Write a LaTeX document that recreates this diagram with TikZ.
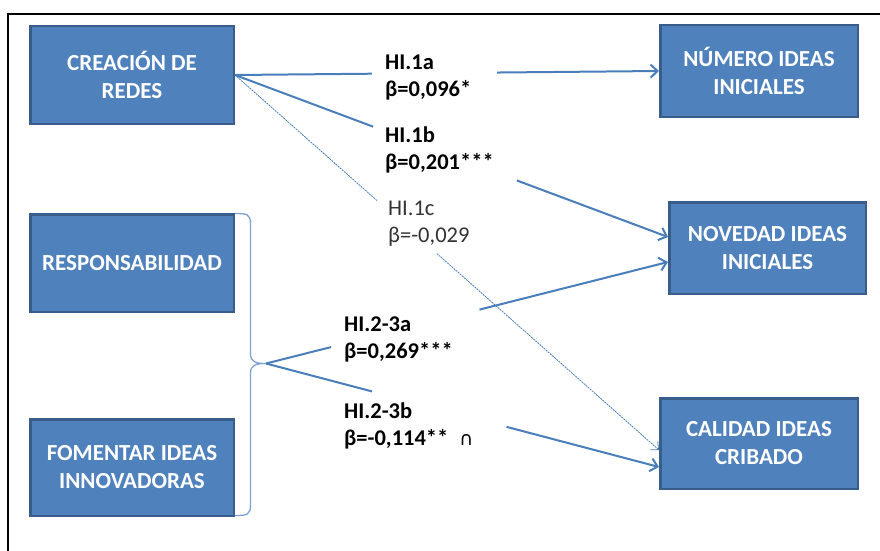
\documentclass[tikz,border=0pt]{standalone}
\usepackage{fontspec}
\setmainfont{Carlito}
\newfontfamily\symfont{DejaVu Sans}
\usetikzlibrary{arrows.meta,calc}
\definecolor{boxfill}{HTML}{4F81BD}
\definecolor{boxedge}{HTML}{385D8A}
\definecolor{linkblue}{HTML}{4A7EBB}
\definecolor{bracecol}{HTML}{7DA2D2}
\definecolor{labelgray}{HTML}{333333}
\begin{document}
\begin{tikzpicture}[x=1pt,y=-1pt,
  varbox/.style={draw=boxedge, line width=2.5pt, fill=boxfill, text=white,
    font=\bfseries\fontsize{23}{28}\selectfont, align=center, inner sep=0pt},
  hyplabel/.style={anchor=base west, align=left, inner sep=0pt,
    font=\bfseries\fontsize{22.5}{26.8}\selectfont},
  link/.style={draw=linkblue, line width=2pt},
  arrowlink/.style={link, -{Straight Barb[length=7pt,width=13pt,line width=2pt]}},
  thinlink/.style={draw=linkblue, line width=0.8pt, dash pattern=on 2pt off 0.8pt,
    -{Straight Barb[length=6pt,width=11pt,line width=0.8pt]}},
]
\useasboundingbox (0,0) rectangle (880,551);

% outer frame
\draw[black, line width=1.8pt] (880,14) -- (8,14) -- (8,551);

% variables
\node[varbox, minimum width=203.5pt, minimum height=97.5pt] (cr) at (132,75) {CREACIÓN DE\\REDES};
\node[varbox, minimum width=203.5pt, minimum height=97.5pt] (rs) at (132,263) {RESPONSABILIDAD};
\node[varbox, minimum width=203.5pt, minimum height=96.5pt] (fo) at (132,467.5) {FOMENTAR IDEAS\\INNOVADORAS};
\node[varbox, minimum width=197.5pt, minimum height=91.5pt] (nm) at (759,71) {NÚMERO IDEAS\\INICIALES};
\node[varbox, minimum width=196.5pt, minimum height=91.5pt] (nv) at (767.5,248) {NOVEDAD IDEAS\\INICIALES};
\node[varbox, minimum width=197.5pt, minimum height=90.5pt] (ca) at (759,443.5) {CALIDAD IDEAS\\CRIBADO};

% brace grouping the two organisational variables
\coordinate (bt) at (266,363.5);
\draw[bracecol, line width=1.3pt] (235,213.5) .. controls (247,213.5) and (250.5,214) .. (250.5,224)
  -- (250.5,354) .. controls (250.5,362) and (256,363.5) .. (bt)
  .. controls (256,363.5) and (250.5,365) .. (250.5,373)
  -- (250.5,505) .. controls (250.5,515) and (247,515.5) .. (235,515.5);

% arrow end points on the outcome boxes
\coordinate (nv-top) at ([yshift=11pt]nv.west);
\coordinate (nv-low) at ([yshift=-14pt]nv.west);
\coordinate (ca-top) at ([yshift=-6.5pt]ca.west);
\coordinate (ca-low) at ([yshift=-23.5pt]ca.west);

% H1a
\coordinate (h1a-in) at ($(cr.east)!0.323!(nm.west)$);
\coordinate (h1a-out) at ($(cr.east)!0.618!(nm.west)$);
\draw[link] (cr.east) -- (h1a-in);
\draw[arrowlink] (h1a-out) -- (nm.west);

% H1b
\coordinate (h1b-in) at ($(cr.east)!0.319!(nv-top)$);
\coordinate (h1b-out) at ($(cr.east)!0.651!(nv-top)$);
\draw[link] (cr.east) -- (h1b-in);
\draw[arrowlink] (h1b-out) -- (nv-top);

% H1c (not significant)
\coordinate (h1c-in) at ($(cr.east)!0.335!(ca-top)$);
\coordinate (h1c-out) at ($(cr.east)!0.476!(ca-top)$);
\draw[thinlink, -] (cr.east) -- (h1c-in);
\draw[thinlink] (h1c-out) -- (ca-top);

% H2-3a
\coordinate (h23a-in) at ($(bt)!0.162!(nv-low)$);
\coordinate (h23a-out) at ($(bt)!0.531!(nv-low)$);
\draw[link] (bt) -- (h23a-in);
\draw[arrowlink] (h23a-out) -- (nv-low);

% H2-3b
\coordinate (h23b-in) at ($(bt)!0.270!(ca-low)$);
\coordinate (h23b-out) at ($(bt)!0.612!(ca-low)$);
\draw[link] (bt) -- (h23b-in);
\draw[arrowlink] (h23b-out) -- (ca-low);

% path coefficients (anchored on the baseline of the second line)
\node[hyplabel] (l1a) at (385,96) {HI.1a\\β=0,096*};
\node[hyplabel] (l1b) at (385,169.3) {HI.1b\\β=0,201***};
\node[hyplabel, font=\fontsize{22.5}{27}\selectfont, text=labelgray] (l1c) at (388,242.7) {HI.1c\\β=-0,029};
\node[hyplabel] (l23a) at (344,358.3) {HI.2-3a\\β=0,269***};
\node[hyplabel] (l23b) at (344,445.7) {HI.2-3b\\β=-0,114**\hspace{11pt}{\symfont\mdseries\fontsize{19}{19}\selectfont ∩}};
\end{tikzpicture}
\end{document}
